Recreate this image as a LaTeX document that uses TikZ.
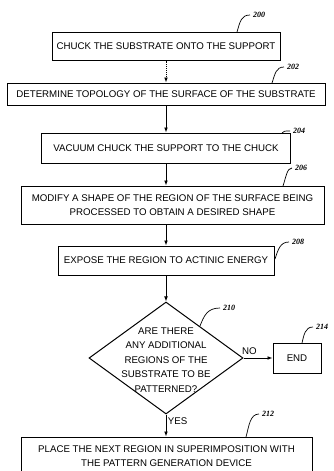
\documentclass[tikz,border=0pt]{standalone}
\usepackage{fontspec}
\setmainfont{Liberation Sans}
\newfontfamily\numfont{Liberation Serif}
\usetikzlibrary{shapes.geometric, arrows.meta}

\begin{document}
\begin{tikzpicture}[
  x=1pt, y=-1pt,
  >={Latex[length=5pt,width=3.8pt]},
  every node/.style={font=\fontsize{9.7}{14.5}\selectfont},
  procbox/.style={draw, line width=1pt, align=center, inner sep=0pt},
  decision/.style={draw, diamond, line width=1pt, inner sep=0pt},
  flow/.style={->, line width=0.9pt},
  refline/.style={line width=0.7pt},
  refnum/.style={font=\numfont\fontsize{8}{8}\selectfont\bfseries\itshape,
                 anchor=west, inner sep=0pt, inner xsep=3pt}
]
\useasboundingbox (0,0) rectangle (333,471);
\clip (0,0) rectangle (333,471);

% ---- PROCESS STEPS ----
\node[procbox, minimum width=228pt, minimum height=28pt] (chuck) at (166,46)
  {CHUCK THE SUBSTRATE ONTO THE SUPPORT};
\node[procbox, minimum width=318pt, minimum height=22pt] (topo) at (166,94)
  {DETERMINE TOPOLOGY OF THE SURFACE OF THE SUBSTRATE};
\node[procbox, minimum width=249pt, minimum height=30pt] (vacuum) at (166,148)
  {VACUUM CHUCK THE SUPPORT TO THE CHUCK};
\node[procbox, minimum width=303pt, minimum height=38pt] (modify) at (172.5,205)
  {MODIFY A SHAPE OF THE REGION OF THE SURFACE BEING\\
   PROCESSED TO OBTAIN A DESIRED SHAPE};
\node[procbox, minimum width=216pt, minimum height=29pt] (expose) at (166,260.5)
  {EXPOSE THE REGION TO ACTINIC ENERGY};

% ---- DECISION ----
\node[decision, minimum width=154pt, minimum height=112pt] (more) at (166,358) {};
\node[align=center, inner sep=0pt] (moretext) at (166,360)
  {ARE THERE\\ANY ADDITIONAL\\REGIONS OF THE\\SUBSTRATE TO BE\\PATTERNED?};
\node[procbox, minimum width=48pt, minimum height=30pt] (done) at (297,358) {END};
\node[procbox, minimum width=291pt, minimum height=38pt] (place) at (166.5,456)
  {PLACE THE NEXT REGION IN SUPERIMPOSITION WITH\\
   THE PATTERN GENERATION DEVICE};

% ---- FLOW ----
\draw[flow, densely dotted] (chuck) -- (topo);
\draw[flow] (topo) -- (vacuum);
\draw[flow] (vacuum.south) -- (vacuum.south |- modify.north);
\draw[flow] (modify.south -| vacuum) -- (expose);
\draw[flow] (expose) -- (more);
\draw[flow] (more.east) -- node[pos=0.2, above, inner sep=3pt] {NO} (done.west);
\draw[flow] (more.south) -- node[pos=0.3, right, inner sep=1.5pt] {YES} (place.north -| more);

% ---- REFERENCE NUMERALS ----
\node[refnum] (n200) at (250,15) {200};
\coordinate (t200) at (237,32);
\draw[refline] (t200) .. controls (240,22) and (241,15) .. (n200.west);

\node[refnum] (n202) at (284,67) {202};
\coordinate (t202) at (272,83);
\draw[refline] (t202) .. controls (275,74) and (276,67) .. (n202.west);

\node[refnum] (n204) at (290,131) {204};
\coordinate (t204) at (282,133);
\draw[refline] (t204) .. controls (284,131) .. (n204.west);

\node[refnum] (n206) at (292,168) {206};
\coordinate (t206) at (283,186);
\draw[refline] (t206) .. controls (286,177) and (287,168) .. (n206.west);

\node[refnum] (n208) at (289,242) {208};
\coordinate (t208) at (275,259);
\draw[refline] (t208) .. controls (278,250) and (280,242) .. (n208.west);

\node[refnum] (n210) at (220,308) {210};
\coordinate (t210) at (200,326);
\draw[refline] (t210) .. controls (204,316) and (207,308) .. (n210.west);

\node[refnum] (n214) at (313,327) {214};
\coordinate (t214) at (302,343);
\draw[refline] (t214) .. controls (304,335) and (305,327) .. (n214.west);

\node[refnum] (n212) at (259,414) {212};
\coordinate (t212) at (246,437);
\draw[refline] (t212) .. controls (249,426) and (250,414) .. (n212.west);

\end{tikzpicture}
\end{document}
